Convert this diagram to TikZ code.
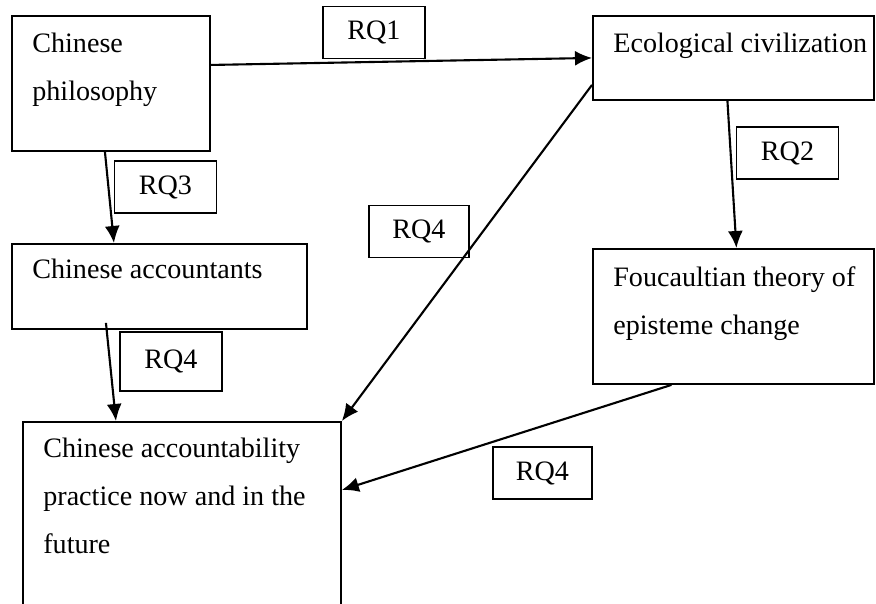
\documentclass[tikz,border=0pt]{standalone}
\usepackage{fontspec}
\setmainfont{Liberation Serif}
\usetikzlibrary{positioning,arrows.meta}

\tikzset{
  bigbox/.style={draw, line width=1.1pt, rectangle, anchor=north west, inner sep=0pt},
  boxtext/.style={anchor=north west, inner sep=0pt, align=left, xshift=0.42cm, yshift=-0.36cm},
  rqbox/.style={draw, line width=1.1pt, rectangle, minimum width=2.04cm, minimum height=1.04cm, inner sep=0pt},
  link/.style={->, line width=1.2pt}
}

\begin{document}
\begin{tikzpicture}[x=0.02cm, y=-0.02cm, >={Latex[length=0.34cm, width=0.3cm]},
  every node/.style={font=\fontsize{16}{27.3}\selectfont}]
  \useasboundingbox (0,0) rectangle (876,604);
  \clip (0,0) rectangle (876,604);
  % boxes
  \node[bigbox, minimum width=3.96cm, minimum height=2.7cm, label={[boxtext]north west:{Chinese\\philosophy}}] (phil) at (11,15) {};
  \node[bigbox, minimum width=5.62cm, minimum height=1.68cm, label={[boxtext]north west:{Ecological civilization}}] (eco) at (592,15) {};
  \node[bigbox, minimum width=5.9cm, minimum height=1.7cm, label={[boxtext, yshift=0.04cm]north west:{Chinese accountants}}] (acct) at (11,243) {};
  \node[bigbox, minimum width=5.62cm, minimum height=2.7cm, label={[boxtext]north west:{Foucaultian theory of\\episteme change}}] (fouc) at (592,248) {};
  \node[bigbox, minimum width=6.36cm, minimum height=4cm, label={[boxtext, yshift=0.02cm]north west:{Chinese accountability\\practice now and in the\\future}}] (acbl) at (22,421) {};
  % labels
  \node[rqbox] (rq1) at (374,32.5) {RQ1};
  \node[rqbox] (rq3) at (165.5,187) {RQ3};
  \node[rqbox, minimum width=2cm] (rq4a) at (419,231.5) {RQ4};
  \node[rqbox] (rq2) at (787.5,153) {RQ2};
  \node[rqbox, minimum height=1.18cm] (rq4b) at (171,361.5) {RQ4};
  \node[rqbox, minimum width=1.98cm] (rq4c) at (542.5,473) {RQ4};
  % arrows
  \draw[link] ([yshift=0.37cm]phil.east) -- (eco.west);
  \draw[link] ([xshift=-0.12cm]phil.south) -- ([xshift=-0.91cm]acct.north);
  \draw[link] ([xshift=-0.12cm]eco.south) -- ([xshift=0.06cm]fouc.north);
  \draw[link] ([yshift=0.32cm]eco.south west) -- (acbl.north east);
  \draw[link] ([xshift=-1.07cm, yshift=0.14cm]acct.south) -- ([xshift=-1.32cm]acbl.north);
  \draw[link] ([xshift=-1.24cm]fouc.south) -- ([yshift=-1.38cm]acbl.north east);
\end{tikzpicture}
\end{document}
